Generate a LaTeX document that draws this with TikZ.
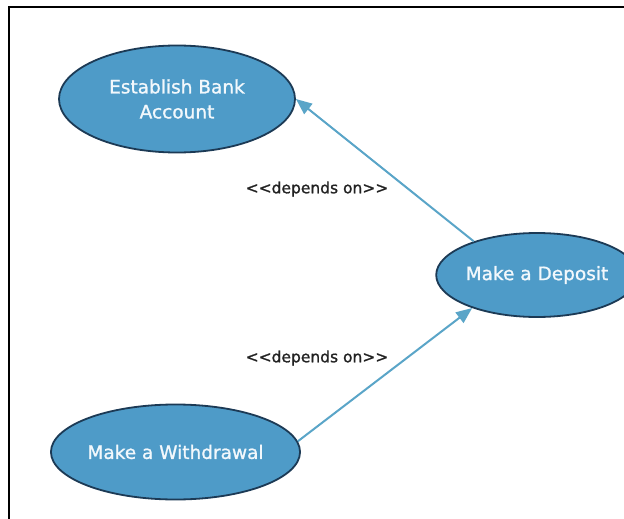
\documentclass[tikz,border=0pt]{standalone}
\usepackage{fontspec}
\setmainfont{DejaVu Sans}
\newfontfamily\heavyfont[FakeBold=1.2]{DejaVu Sans}
\usetikzlibrary{shapes.geometric,arrows.meta}
\definecolor{ucfill}{HTML}{4E9BC8}
\definecolor{ucdraw}{HTML}{1C3A55}
\definecolor{uctext}{HTML}{F2F8FC}
\definecolor{arrowc}{HTML}{5AA5C8}
\definecolor{labc}{HTML}{222222}
\tikzset{
  usecase/.style={ellipse, draw=ucdraw, line width=1.8pt, fill=ucfill, text=uctext,
    inner sep=0pt, align=center, font=\heavyfont\fontsize{18.5}{25}\selectfont},
  dep/.style={draw=arrowc, line width=2pt, -{Triangle[length=16pt,width=13pt]}},
  deplabel/.style={text=labc, font=\heavyfont\fontsize{15.5}{18}\selectfont},
  frame/.style={line width=2pt, black}
}
\begin{document}
\begin{tikzpicture}[x=1pt,y=-1pt]
\useasboundingbox (0,0) rectangle (624,519);
\fill[white] (0,0) rectangle (624,519);
\coordinate (ftl) at (9,7);
\coordinate (ftr) at (624,7);
\coordinate (fbl) at (9,519);
\draw[frame] (ftr) -- (ftl) -- (fbl);
\node[usecase, minimum width=236pt, minimum height=107pt] (bank) at (177,99) {Establish Bank\\Account};
\node[usecase, minimum width=164pt, minimum height=84pt] (deposit) at (537,275) {Make a Deposit};
\node[usecase, minimum width=235pt, minimum height=95pt] (withdraw) at (175.5,452) {Make a Withdrawal};
\draw[dep] (deposit.152) -- (bank.0);
\draw[dep] (withdraw.5) -- (deposit.207);
\node[deplabel] (l1) at (317,189) {{<}{<}depends on{>}{>}};
\node[deplabel] (l2) at (317,358) {{<}{<}depends on{>}{>}};
\end{tikzpicture}
\end{document}
